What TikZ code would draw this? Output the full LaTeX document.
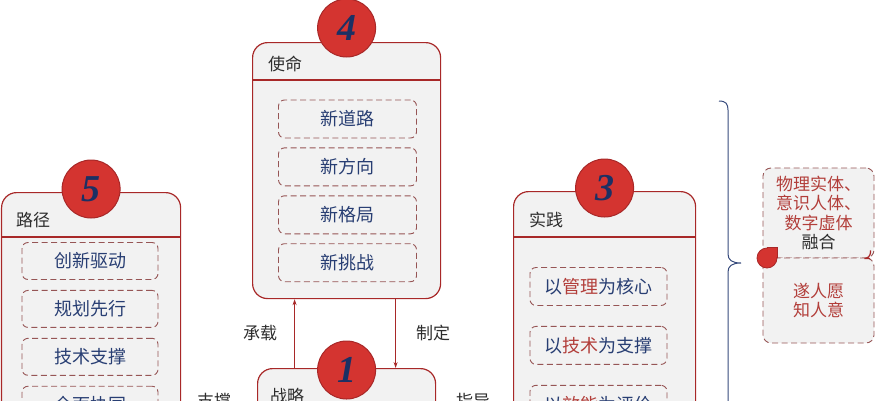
\documentclass[tikz,border=0pt]{standalone}
\usepackage{fontspec}
\setmainfont{Liberation Serif}
\newfontfamily\cjk{Noto Sans CJK SC}
\usepackage{tikz}
\usetikzlibrary{arrows.meta, positioning, calc}
\definecolor{framered}{RGB}{168,40,40}
\definecolor{panelgray}{RGB}{242,242,242}
\definecolor{dashred}{RGB}{150,85,85}
\definecolor{inknavy}{RGB}{40,62,115}
\definecolor{badgered}{RGB}{212,52,48}
\definecolor{digitnavy}{RGB}{28,48,100}
\definecolor{textred}{RGB}{178,62,58}
\definecolor{headgray}{RGB}{45,45,45}
\definecolor{bracenavy}{RGB}{55,75,125}

\begin{document}
\begin{tikzpicture}[x=1pt, y=-1pt, >={Stealth[length=6pt,width=4pt]},
  panel/.style={draw=framered, fill=panelgray, line width=1.2pt,
                rounded corners=15pt, anchor=north west, inner sep=0pt},
  headline/.style={draw=framered, line width=1.2pt},
  headtext/.style={anchor=west, inner sep=0pt, text=headgray,
                   font=\cjk\fontsize{17}{20}\selectfont},
  badge/.style={circle, draw=framered, fill=badgered, line width=1pt,
                minimum size=58pt, inner sep=0pt, text=digitnavy,
                font=\fontsize{38}{40}\selectfont\bfseries\itshape},
  item/.style={draw=dashred, dash pattern=on 6pt off 3.5pt, fill=panelgray,
               rounded corners=6pt, line width=0.9pt, minimum width=138pt,
               minimum height=38pt, inner sep=0pt, text=inknavy,
               font=\cjk\fontsize{18}{20}\selectfont},
  note/.style={draw=dashred, dash pattern=on 6pt off 3.5pt, fill=panelgray,
               rounded corners=8pt, line width=0.9pt, minimum width=111pt,
               inner sep=0pt, align=center, text=textred,
               font=\cjk\fontsize{17}{19.5}\selectfont},
  lbl/.style={inner sep=0pt, text=headgray, font=\cjk\fontsize{17}{20}\selectfont},
  flow/.style={->, draw=framered, line width=0.9pt},
]
\useasboundingbox (0,0) rectangle (876,400);
\clip (0,0) rectangle (876,400);

% Panel 4 - mission
\node[panel, minimum width=188pt, minimum height=256pt] (mis) at (252,42) {};
\draw[headline] ([yshift=-38pt]mis.north west) -- ([yshift=-38pt]mis.north east);
\node[headtext] (mis-t) at ([xshift=16pt, yshift=-22pt]mis.north west) {使命};
\node[item] (mis1) at (347.5,119) {新道路};
\node[item, below=9pt of mis1] (mis2) {新方向};
\node[item, below=9pt of mis2] (mis3) {新格局};
\node[item, below=9pt of mis3] (mis4) {新挑战};
\node[badge] (b4) at ([yshift=14pt]mis.north) {4};

% Panel 5 - path
\node[panel, minimum width=179pt, minimum height=250pt] (pth) at (1,192) {};
\draw[headline] ([yshift=-45pt]pth.north west) -- ([yshift=-45pt]pth.north east);
\node[headtext] (pth-t) at ([xshift=15pt, yshift=-28pt]pth.north west) {路径};
\node[item, minimum width=136pt, minimum height=37pt] (pth1) at (90,261) {创新驱动};
\node[item, minimum width=136pt, minimum height=37pt, below=10pt of pth1] (pth2) {规划先行};
\node[item, minimum width=136pt, minimum height=37pt, below=10pt of pth2] (pth3) {技术支撑};
\node[item, minimum width=136pt, minimum height=37pt, below=10pt of pth3] (pth4) {全面协同};
\node[badge] (b5) at ([yshift=3pt]pth.north) {5};

% Panel 3 - practice
\node[panel, minimum width=182pt, minimum height=250pt] (prc) at (513,191) {};
\draw[headline] ([yshift=-46pt]prc.north west) -- ([yshift=-46pt]prc.north east);
\node[headtext] (prc-t) at ([xshift=16pt, yshift=-29pt]prc.north west) {实践};
\node[item, minimum width=137pt] (prc1) at (598.5,286.5)
     {以\textcolor{textred}{管理}为核心};
\node[item, minimum width=137pt, below=20pt of prc1] (prc2)
     {以\textcolor{textred}{技术}为支撑};
\node[item, minimum width=137pt, below=20pt of prc2] (prc3)
     {以\textcolor{textred}{效能}为评价};
\node[badge] (b3) at ([yshift=3pt]prc.north) {3};

% Panel 1 - strategy
\node[panel, minimum width=178pt, minimum height=100pt] (stg) at (257,368) {};
\node[headtext] (stg-t) at ([xshift=13pt, yshift=-28pt]stg.north west) {战略};
\node[badge] (b1) at ([yshift=-2pt]stg.north) {1};

% Arrows between strategy and mission
\draw[flow] ([xshift=-52pt]stg.north) -- ([xshift=-52pt]stg.north |- mis.south);
\draw[flow] ([xshift=49pt]mis.south) -- ([xshift=49pt]mis.south |- stg.north);

% Labels
\node[lbl] (carry) at (260,333) {承载};
\node[lbl] (make) at (433,333) {制定};
\node[lbl] (support) at (214,401) {支撑};
\node[lbl] (guide) at (473,401) {指导};

% Brace
\draw[bracenavy, line width=1pt] (719,101) .. controls (726,101) and (728,104) .. (728,110)
  -- (728,254) .. controls (728,260) and (732,263) .. (741,263)
  .. controls (732,263) and (728,266) .. (728,272) -- (728,420);

% Right notes
\node[note, minimum height=90pt] (fuse) at (818.5,213)
     {物理实体、\\意识人体、\\数字虚体\\\textcolor{headgray}{融合}};
\node[note, minimum height=85pt] (wish) at (818.5,300.5) {遂人愿\\知人意};
\draw[framered, line width=1.2pt, rounded corners=6pt]
  ([xshift=-767pt+818.5pt, yshift=0pt]fuse.south) -- ([xshift=-4pt]fuse.south east)
  -- ([xshift=-4pt, yshift=8pt]fuse.south east);
\node[circle, draw=framered, fill=badgered, line width=0.8pt, minimum size=20pt,
      inner sep=0pt] (drop) at (767,258) {};
\filldraw[draw=framered, fill=badgered, line width=0.8pt] (drop.east) |- (drop.north);

\end{tikzpicture}
\end{document}
